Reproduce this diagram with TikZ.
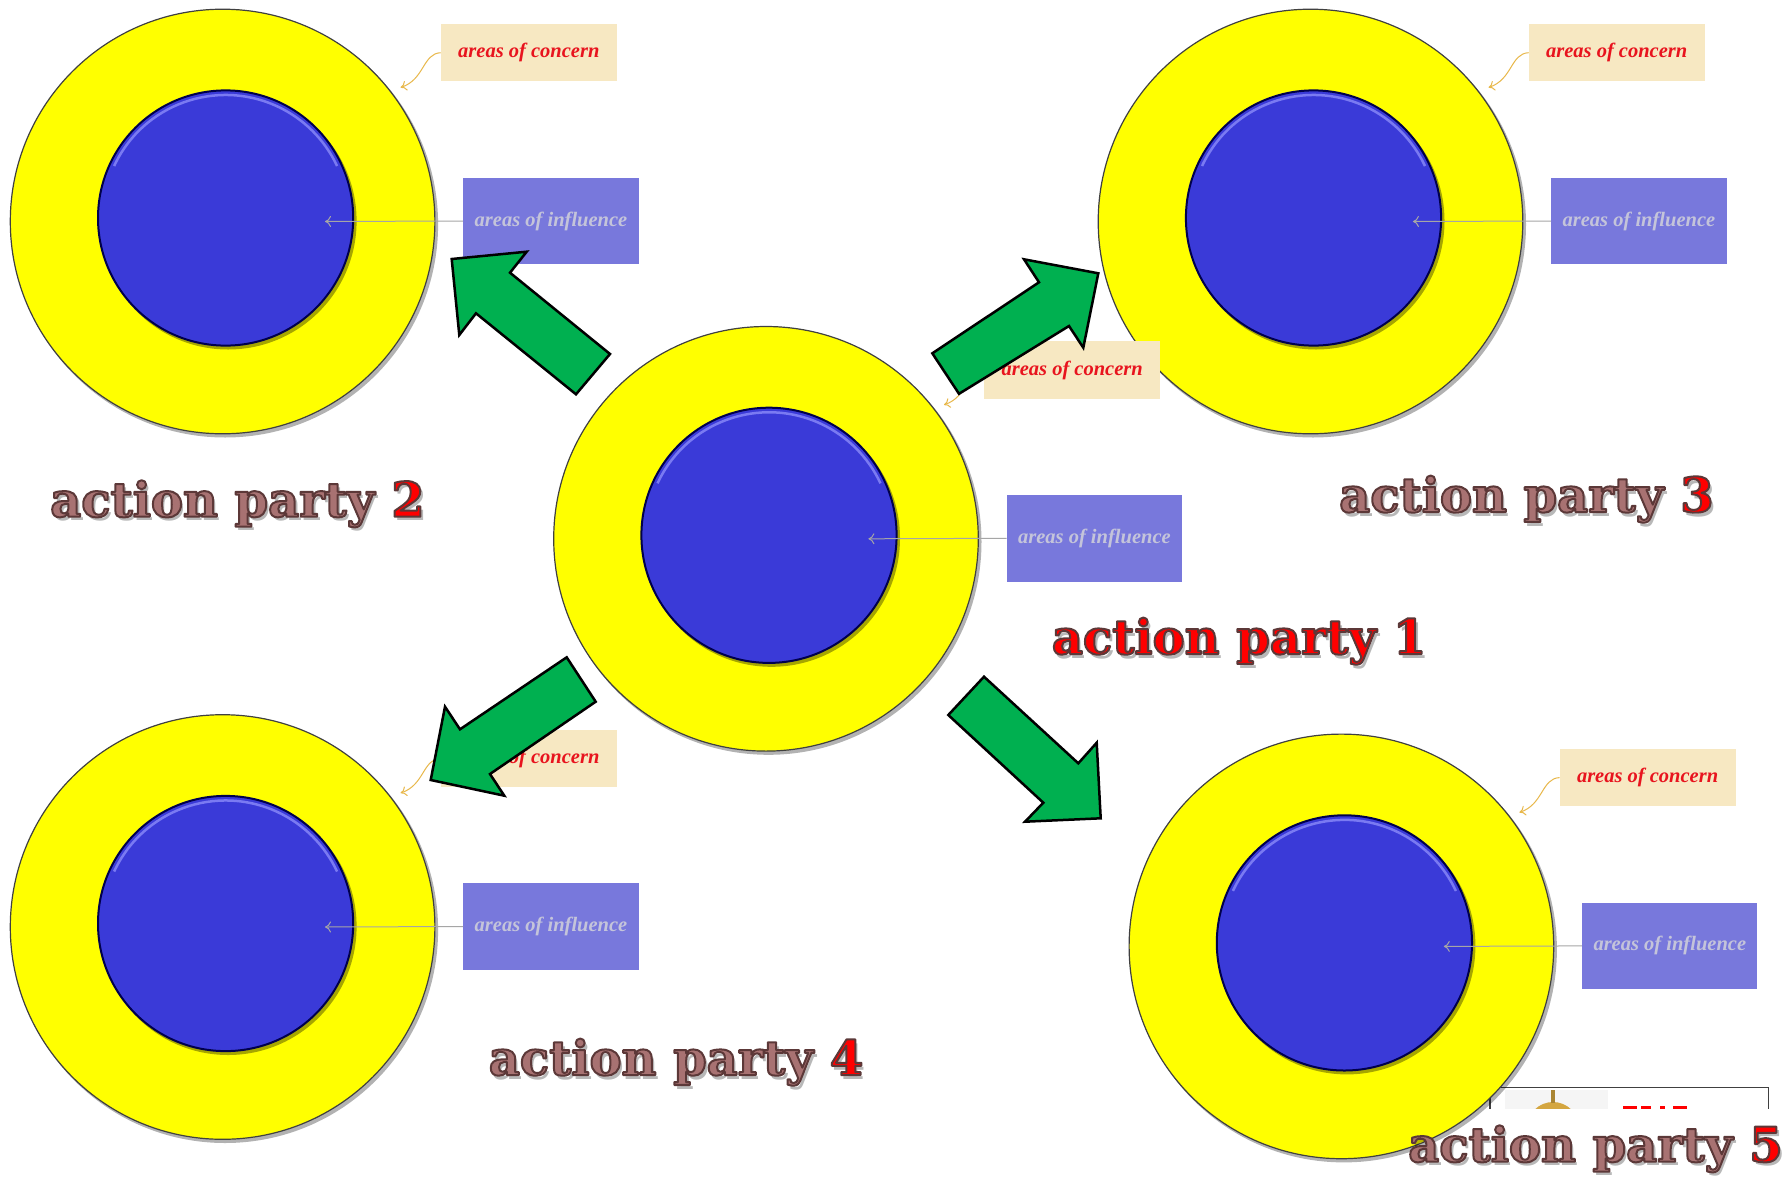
\documentclass[tikz,border=0pt]{standalone}
\usepackage{fontspec}
\setmainfont{Liberation Serif}
\newfontfamily\apfont{DejaVu Serif}
\usetikzlibrary{arrows.meta}
\definecolor{ringyellow}{HTML}{FFFF00}
\definecolor{coreblue}{HTML}{3A3AD8}
\definecolor{corehi}{HTML}{7A7AF2}
\definecolor{concernfill}{HTML}{F7E8C2}
\definecolor{concerntext}{HTML}{E8141E}
\definecolor{inflfill}{HTML}{7878DC}
\definecolor{infltext}{HTML}{C4C4DA}
\definecolor{arrowgreen}{HTML}{00B050}
\definecolor{rosy}{HTML}{A87272}
\definecolor{rosyedge}{HTML}{5E3838}
\definecolor{curlgold}{HTML}{E8B84A}
\definecolor{goldish}{HTML}{D4A640}
\tikzset{
 ring/.style={circle, fill=ringyellow, draw=black!75, line width=1.2pt, minimum size=424.6pt, inner sep=0pt},
 core/.style={circle, fill=coreblue, draw=black!70!blue, line width=2pt, minimum size=255.2pt, inner sep=0pt},
 concernbox/.style={fill=concernfill, minimum width=175.8pt, minimum height=57.3pt, inner sep=0pt,
   font=\fontsize{20.5}{24}\selectfont\bfseries\itshape, text=concerntext},
 inflbox/.style={fill=inflfill, minimum width=175.3pt, minimum height=86.6pt, inner sep=0pt,
   font=\fontsize{20.5}{24}\selectfont\bfseries\itshape, text=infltext},
 curl/.style={draw=curlgold, line width=1pt, -{To[length=6pt,width=10pt]}},
 infline/.style={draw=black!35, line width=1pt, -{To[length=6pt,width=11pt]}},
 bigarrow/.style={fill=arrowgreen, draw=black, line width=2.5pt, line join=miter},
 aptext/.style={anchor=base west, inner sep=0pt, font=\apfont\bfseries\fontsize{48}{52}\selectfont},
}
% outlined text: fill + stroke render mode, stroke colour set after each colour change
\newcommand\strokeon{\special{pdf:literal direct 2 Tr 2 w 1 j}}
\newcommand\strokeoff{\special{pdf:literal direct 0 Tr}}
\newcommand\edgecol{\special{pdf:literal direct 0.36 0.22 0.22 RG}}
\newcommand\partygroup[3]{%
 \begin{scope}[shift={(#1,#2)}]
  \fill[black,opacity=0.3] (2.5,3) circle[radius=213];
  \node[ring] (#3-ring) at (0,0) {};
  \fill[black,opacity=0.35] (5.5,-0.5) circle[radius=128.5];
  \node[core] (#3-core) at (3,-3.5) {};
  \draw[corehi, line width=2.5pt] (3,-3.5) ++(205:123) arc[start angle=205, end angle=335, radius=123];
  \node[concernbox] (#3-con) at (306.2,-168.8) {areas of concern};
  \node[inflbox] (#3-inf) at (328.4,-0.5) {areas of influence};
  \coordinate (#3-cend) at (178,-134);
  \coordinate (#3-iend) at (102.4,0);
  \draw[curl] (#3-con.west) .. controls (200,-168) and (202,-142) .. (#3-cend);
  \draw[infline] (#3-inf.west) -- (#3-iend);
 \end{scope}}
\newcommand\aplabel[5]{%
 \node[aptext, text=black, opacity=0.28, xshift=3pt, yshift=-4pt] (#3-shadow) at (#1,#2) {action party #5};
 \node[aptext] (#3) at (#1,#2) {\strokeon\textcolor{#4}{\edgecol action party} \textcolor{red}{\edgecol #5}\strokeoff};}
\begin{document}
\begin{tikzpicture}[x=1pt,y=-1pt]
\useasboundingbox (0,0) rectangle (1790,1178);
\fill[white] (0,0) rectangle (1790,1178);
% partly hidden frame at bottom right
\begin{scope}
 \clip (1480,1080) rectangle (1780,1108.5);
 \fill[black!4] (1505,1090) rectangle (1608,1115);
 \fill[goldish] (1553,1128) circle[radius=26];
 \fill[goldish!80!black] (1551,1090) rectangle (1555,1103);
 \fill[red] (1623,1105.5) rectangle (1637,1109);
 \fill[red] (1641,1105.5) rectangle (1651,1109);
 \fill[red] (1660,1105.5) rectangle (1665,1109);
 \fill[red] (1673,1105.5) rectangle (1687,1109);
 \draw[black!75, line width=1.2pt] (1490,1087.7) rectangle (1768.3,1200);
\end{scope}
\partygroup{222.6}{221.5}{p2}
\partygroup{1310.5}{221.5}{p3}
\partygroup{222.6}{927}{p4}
\partygroup{1341.4}{946.4}{p5}
\partygroup{766}{538.8}{p1}
% green block arrows
\draw[bigarrow] (610,354) -- (510,272.7) -- (526.7,251.7) -- (451.7,259) -- (459.3,335) -- (476,313.3) -- (576,394.3) -- cycle;
\draw[bigarrow] (932.3,353.3) -- (1039,282.3) -- (1024,259.3) -- (1098.3,273.3) -- (1083.3,347.7) -- (1069,326) -- (959,393.8) -- cycle;
\draw[bigarrow] (984,676.7) -- (1078.3,763.3) -- (1096.7,742.7) -- (1100.7,818.3) -- (1025,821.7) -- (1043.3,802.7) -- (948.3,715) -- cycle;
\draw[bigarrow] (566.7,657.3) -- (460,729.3) -- (445,706.7) -- (430.7,780) -- (504.3,795.7) -- (490,774) -- (595.7,701.7) -- cycle;
% labels
\aplabel{50}{516.7}{l2}{rosy}{2}
\aplabel{1339}{512}{l3}{rosy}{3}
\aplabel{1051.7}{654}{l1}{red}{1}
\aplabel{488.6}{1075}{l4}{rosy}{4}
\aplabel{1408}{1161.7}{l5}{rosy}{5}
\end{tikzpicture}
\end{document}
